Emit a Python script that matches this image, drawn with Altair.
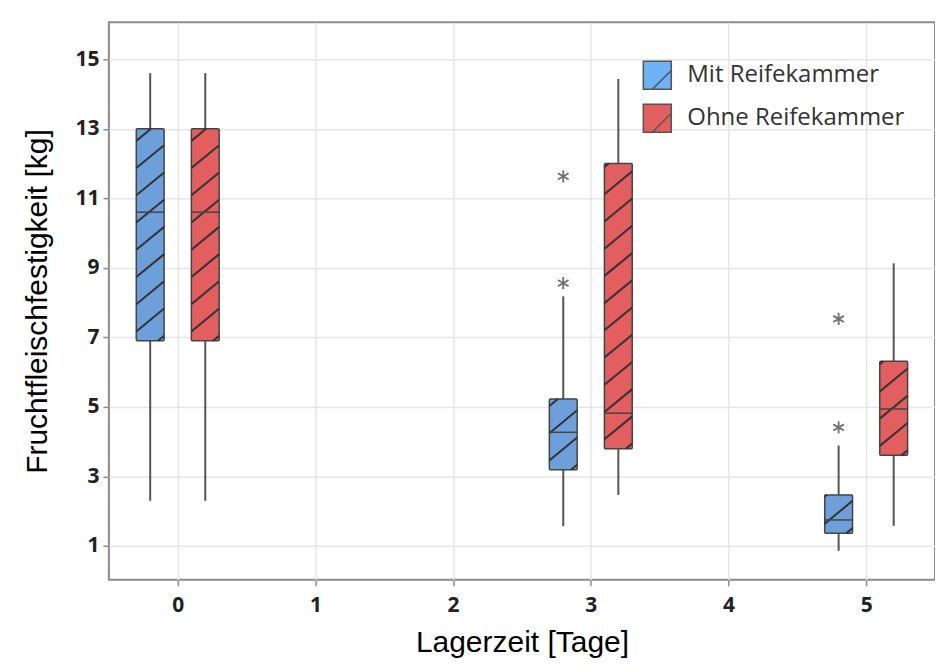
import altair as alt
import pandas as pd
import numpy as np

# ---------------- data ----------------
groups = ["Mit Reifekammer", "Ohne Reifekammer"]
days = [0, 3, 5]
mit_low = [2.3, 1.57, 0.86]
mit_q1 = [6.9, 3.19, 1.37]
mit_med = [10.6, 4.27, 1.75]
mit_q3 = [13.0, 5.23, 2.47]
mit_high = [14.6, 8.18, 3.89]
ohne_low = [2.3, 2.47, 1.58]
ohne_q1 = [6.9, 3.80, 3.61]
ohne_med = [10.6, 4.82, 4.94]
ohne_q3 = [13.0, 12.0, 6.31]
ohne_high = [14.6, 14.43, 9.13]
outlier_group = ["Mit Reifekammer"] * 4
outlier_days = [3, 3, 5, 5]
outlier_values = [8.56, 11.63, 4.41, 7.53]
x_ticks = [0, 1, 2, 3, 4, 5]
y_ticks = [1, 3, 5, 7, 9, 11, 13, 15]

# ---------------- style ----------------
OFFSET = 0.2        # dodge of each group from the day (days)
HALF = 0.101        # half box width (days)
HATCH_SLOPE = 3.26  # kg per day
HATCH_STEP = 0.783  # kg
HATCH_PHASE = 0.27  # kg
box_colors = ["#6d9fdb", "#e35f5f"]
legend_colors = ["#6cb4f6", "#e35f5f"]

stats = {
    groups[0]: (mit_low, mit_q1, mit_med, mit_q3, mit_high),
    groups[1]: (ohne_low, ohne_q1, ohne_med, ohne_q3, ohne_high),
}
sign = {groups[0]: -1, groups[1]: 1}

box_rows, whisk_rows, hatch_rows = [], [], []
for g in groups:
    low, q1, med, q3, high = stats[g]
    for i, d in enumerate(days):
        c = d + sign[g] * OFFSET
        xl, xr = c - HALF, c + HALF
        box_rows.append(dict(group=g, center=c, xl=xl, xr=xr, q1=q1[i], q3=q3[i], med=med[i]))
        whisk_rows.append(dict(group=g, center=c, ya=low[i], yb=q1[i]))
        whisk_rows.append(dict(group=g, center=c, ya=q3[i], yb=high[i]))
        s = HATCH_SLOPE
        for cc in np.arange(q1[i] + HATCH_PHASE - HATCH_STEP, q3[i], HATCH_STEP):
            xa = max(xl, xl + (q1[i] - cc) / s)
            xb = min(xr, xl + (q3[i] - cc) / s)
            if xb - xa > 1e-4:
                hatch_rows.append(dict(x1=xa, y1=cc + s * (xa - xl), x2=xb, y2=cc + s * (xb - xl)))

boxes = pd.DataFrame(box_rows)
whisk = pd.DataFrame(whisk_rows)
hatch = pd.DataFrame(hatch_rows)
outl = pd.DataFrame(dict(group=outlier_group, day=outlier_days, value=outlier_values))
outl["center"] = outl["day"] + outl["group"].map(sign) * OFFSET

xs = alt.Scale(domain=[-0.5, 5.5], nice=False, zero=False)
ys = alt.Scale(domain=[0.03, 16.06], nice=False, zero=False)
xa = alt.Axis(values=x_ticks, title="Lagerzeit [Tage]", labelPadding=9, titlePadding=12, format="d")
ya = alt.Axis(values=y_ticks, title="Fruchtfleischfestigkeit [kg]", labelPadding=4, titlePadding=22, format="d")


def X(f):
    return alt.X(f, type="quantitative", scale=xs, axis=xa)


def Y(f):
    return alt.Y(f, type="quantitative", scale=ys, axis=ya)


whiskers = alt.Chart(whisk).mark_rule(color="#555555", strokeWidth=2).encode(
    x=X("center"), y=Y("ya"), y2="yb"
)

rects = alt.Chart(boxes).mark_rect(stroke="#444444", strokeWidth=1.5, cornerRadius=1).encode(
    x=X("xl"), x2="xr", y=Y("q1"), y2="q3",
    fill=alt.Fill("group:N", scale=alt.Scale(domain=groups, range=box_colors), legend=None),
)

hatches = alt.Chart(hatch).mark_rule(color="#333333", strokeWidth=2).encode(
    x=X("x1"), x2="x2", y=Y("y1"), y2="y2"
)

medians = alt.Chart(boxes).mark_rule(color="#444444", strokeWidth=1.5).encode(
    x=X("xl"), x2="xr", y=Y("med")
)

asterisk = "M0,-1L0,1M-0.87,-0.5L0.87,0.5M-0.87,0.5L0.87,-0.5"
outliers = alt.Chart(outl).mark_point(shape=asterisk, filled=False, color="#707070",
                                      strokeWidth=1.8, size=150, opacity=1).encode(
    x=X("center"), y=Y("value")
)

legend_layer = alt.Chart(boxes).mark_point(filled=True, size=0, opacity=0, stroke="#555555").encode(
    x=X("center"), y=Y("med"),
    fill=alt.Fill(
        "group:N",
        scale=alt.Scale(domain=groups, range=legend_colors),
        legend=alt.Legend(
            title=None, orient="none", legendX=534, legendY=38, padding=0,
            symbolType="M-1,-1H1V1H-1Z M-0.35,1L1,-0.35",
            symbolSize=784, symbolStrokeColor="#555555", symbolStrokeWidth=1.5,
            symbolOpacity=1,
            labelFont="Open Sans", labelFontSize=24, labelColor="#333333",
            labelOffset=15, rowPadding=9, labelLimit=400,
        ),
    ),
)

chart = alt.layer(whiskers, rects, hatches, medians, outliers, legend_layer).resolve_scale(
    fill="independent"
).properties(
    width=827, height=558, autosize="none",
    padding={"left": 101, "top": 14, "right": 0, "bottom": 78},
).configure_view(
    stroke="#8c8c8c", strokeWidth=2
).configure_axis(
    grid=True, gridColor="#e6e6e6", gridWidth=1.5, domain=False,
    tickColor="#8c8c8c", tickWidth=1.5, tickSize=6,
    labelFont="Open Sans", labelFontWeight="bold", labelFontSize=21, labelColor="#222222",
    titleFont="Liberation Sans", titleFontSize=30, titleFontWeight="normal", titleColor="#000000",
)

chart.save("out.html", embed_options={"renderer": "svg", "actions": False})
